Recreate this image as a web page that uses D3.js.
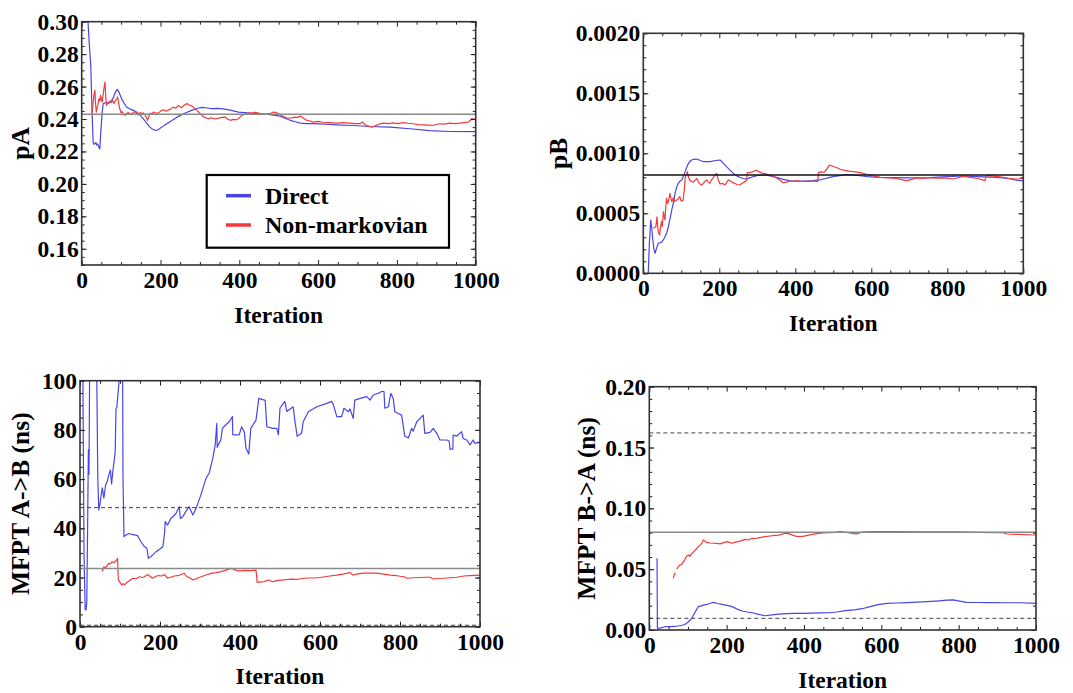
<!DOCTYPE html>
<html>
<head>
<meta charset="utf-8">
<script src="https://cdn.jsdelivr.net/npm/d3@7"></script>
<style>
  body { margin: 0; background: #fff; }
  svg text { font-family: "Liberation Serif", "Times New Roman", serif; font-weight: bold; fill: #000; }
</style>
</head>
<body>
<svg id="chart" width="1073" height="693"></svg>
<script>
// ---- data: [iteration, value] ----
var iterTicks = [0, 200, 400, 600, 800, 1000];
var seriesNames = ["Direct", "Non-markovian"];

var pATicks = [0.16, 0.18, 0.20, 0.22, 0.24, 0.26, 0.28, 0.30];
var pARef = 0.243;
var pADirect = [[12,0.315],[16,0.300],[19,0.287],[23,0.2732],[26,0.2466],[29,0.2257],[31,0.2245],[33,0.2247],[36,0.2255],[38,0.2240],[40,0.2245],[42,0.2237],[44,0.2225],[46,0.2216],[48.5,0.2319],[52,0.2443],[54.6,0.2495],[60,0.2500],[67,0.2502],[72,0.2508],[76,0.2515],[80,0.2530],[84,0.2557],[88,0.2575],[90,0.2583],[94,0.2570],[98,0.2545],[101,0.2526],[107,0.2500],[114,0.2474],[120,0.2465],[130,0.2455],[139,0.2443],[148,0.2425],[156,0.2402],[165,0.2375],[173,0.2350],[180,0.2337],[188,0.2329],[195,0.2335],[203,0.2350],[215,0.2370],[229,0.2391],[241,0.2410],[254,0.2427],[266,0.2440],[279,0.2453],[292,0.2465],[305,0.2472],[318,0.2468],[330,0.2464],[343,0.2466],[356,0.2464],[377,0.2455],[398,0.2443],[420,0.2438],[449,0.2433],[478,0.2427],[503,0.2418],[516,0.2405],[529,0.2392],[542,0.2383],[555,0.2375],[570,0.2372],[588,0.2371],[620,0.2368],[647,0.2364],[689,0.2360],[731,0.2354],[782,0.2350],[833,0.2340],[883,0.2329],[934,0.2323],[1000,0.2322]];
var pANonMarkov = [[26,0.2433],[29,0.2500],[31,0.2546],[33.5,0.2577],[35,0.2500],[37,0.2443],[39,0.2470],[41,0.2484],[44,0.2526],[46,0.2510],[48,0.2546],[50,0.2520],[52,0.2505],[55,0.2560],[57,0.2598],[59,0.2628],[61,0.2540],[63,0.2484],[66,0.2500],[69,0.2495],[72,0.2510],[75,0.2500],[78,0.2515],[82,0.2495],[86,0.2515],[89,0.2525],[91,0.2536],[94,0.2494],[97,0.2460],[100,0.2439],[103,0.2445],[106,0.2432],[110,0.2422],[114,0.2435],[119,0.2439],[124,0.2428],[128,0.2435],[132,0.2440],[136,0.2447],[140,0.2430],[144,0.2425],[148,0.2440],[152,0.2432],[156,0.2438],[161,0.2425],[164,0.2410],[167,0.2392],[171,0.2420],[174,0.2435],[178,0.2430],[182,0.2443],[188,0.2435],[195,0.2438],[201,0.2450],[208,0.2457],[214,0.2448],[220,0.2455],[226,0.2462],[233,0.2474],[239,0.2465],[245,0.2484],[250,0.2475],[254,0.2470],[260,0.2485],[267,0.2495],[273,0.2485],[279,0.2480],[285,0.2470],[292,0.2453],[298,0.2440],[305,0.2422],[312,0.2410],[322,0.2402],[330,0.2408],[338,0.2400],[347,0.2405],[356,0.2410],[364,0.2412],[370,0.2400],[377,0.2392],[385,0.2398],[392,0.2395],[398,0.2402],[406,0.2422],[414,0.2430],[423,0.2439],[430,0.2435],[440,0.2442],[449,0.2436],[458,0.2430],[466,0.2428],[474,0.2432],[480,0.2435],[487,0.2443],[495,0.2438],[503,0.2428],[512,0.2415],[520,0.2408],[530,0.2405],[540,0.2412],[548,0.2410],[555,0.2418],[563,0.2405],[571,0.2392],[580,0.2388],[588,0.2381],[600,0.2385],[613,0.2380],[630,0.2378],[647,0.2375],[665,0.2378],[681,0.2375],[695,0.2372],[706,0.2371],[713,0.2381],[718,0.2368],[723,0.2360],[730,0.2355],[735,0.2350],[745,0.2358],[755,0.2368],[765,0.2375],[778,0.2372],[790,0.2376],[803,0.2372],[816,0.2378],[828,0.2374],[841,0.2371],[854,0.2366],[867,0.2364],[880,0.2362],[892,0.2360],[900,0.2366],[909,0.2371],[920,0.2369],[934,0.2375],[947,0.2372],[960,0.2375],[970,0.2378],[981,0.2381],[987,0.2392],[990,0.2402],[995,0.2400],[1000,0.2398]];

var pBTicks = [0, 0.0005, 0.0010, 0.0015, 0.0020];
var pBRef = 0.00082;
var pBDirect = [[12,0],[13,0],[16,0.00025],[19.5,0.000444],[22,0.00038],[25,0.00028],[28,0.0002],[31,0.000167],[35,0.00021],[39.7,0.00025],[44,0.000255],[48.5,0.00026],[53,0.00028],[57,0.000305],[62,0.00034],[66,0.000388],[70,0.00045],[75,0.000528],[80,0.0006],[83.6,0.000667],[88,0.00072],[92,0.00075],[97,0.00077],[101,0.000778],[106,0.00081],[110,0.000847],[115,0.00089],[119,0.000917],[125,0.00094],[132,0.00095],[140,0.000952],[150,0.00094],[159,0.00093],[168,0.00093],[176,0.00093],[190,0.00094],[202,0.000944],[210,0.00092],[219,0.000889],[228,0.00086],[237,0.000833],[246,0.000812],[254,0.0008],[263,0.00079],[272,0.000786],[280,0.000795],[289,0.000805],[302,0.000815],[315,0.000819],[328,0.000815],[342,0.000805],[355,0.000795],[368,0.000783],[381,0.000775],[394,0.000769],[411,0.000768],[429,0.000769],[446,0.000772],[464,0.000778],[477,0.000788],[490,0.0008],[503,0.000808],[517,0.000814],[530,0.00082],[544,0.000822],[565,0.000815],[590,0.000806],[623,0.0008],[660,0.000797],[700,0.000795],[754,0.000797],[800,0.000805],[842,0.000811],[880,0.000805],[930,0.0008],[960,0.00079],[985,0.000775],[1000,0.00077]];
var pBNonMarkov = [[26,0.000375],[30,0.00038],[33,0.00039],[36,0.00047],[38,0.00038],[40,0.00034],[43,0.00032],[46,0.0004],[48,0.00043],[50,0.00039],[53,0.000513],[55,0.00047],[57,0.000445],[59,0.00055],[61,0.000625],[64,0.00058],[67,0.00061],[70,0.000667],[73,0.00062],[75,0.000597],[79,0.00063],[83,0.0006],[88,0.000611],[92,0.00062],[96,0.000639],[100,0.0006],[105,0.000611],[108,0.0007],[110,0.000792],[113,0.00082],[116,0.000847],[119,0.0008],[122,0.000778],[127,0.000765],[132,0.00076],[136,0.000775],[141,0.00079],[145,0.00076],[150,0.00074],[154,0.000736],[158,0.00075],[163,0.00077],[167,0.000778],[171,0.00076],[175,0.00075],[180,0.00078],[185,0.0008],[189,0.00082],[193,0.000833],[197,0.00078],[202,0.000745],[208,0.00075],[215,0.000736],[220,0.00076],[224,0.000778],[229,0.00077],[233,0.00076],[240,0.00075],[247,0.00074],[254,0.000736],[260,0.00075],[266,0.00076],[272,0.000778],[274,0.000839],[281,0.00084],[289,0.000847],[294,0.000855],[298,0.00086],[305,0.000845],[315,0.000833],[322,0.00083],[330,0.00082],[340,0.00081],[351,0.000794],[358,0.00078],[368,0.000755],[377,0.00076],[385,0.00077],[394,0.000765],[403,0.000772],[411,0.000768],[420,0.000765],[429,0.000768],[440,0.000765],[450,0.00077],[459,0.000764],[461,0.000842],[468,0.000845],[476,0.000842],[483,0.00087],[490,0.000902],[500,0.00089],[510,0.00088],[517,0.000867],[530,0.000858],[544,0.00085],[560,0.000845],[579,0.000833],[600,0.000815],[623,0.0008],[645,0.000795],[667,0.00079],[680,0.00078],[693,0.000772],[705,0.00078],[718,0.000795],[735,0.00079],[754,0.000797],[770,0.000792],[790,0.000795],[805,0.00079],[816,0.000786],[830,0.000798],[842,0.000808],[860,0.0008],[880,0.00079],[899,0.000772],[902,0.000814],[915,0.000812],[930,0.000808],[947,0.0008],[965,0.00079],[982,0.000786],[1000,0.00079]];

var abTicks = [0, 20, 40, 60, 80, 100];
var abRef = 23.7;
var abBounds = [48.4, 0.6];
var abDirect = [[5,160],[10,30],[13,7],[15,6.8],[17,10],[19,40],[21,72],[22.5,62],[25,130],[40,140],[42,100],[44.5,60],[47,47.4],[49,49],[52,52.3],[55.7,56.4],[59.8,52.3],[64,57.6],[68,59],[72,61.7],[76,63.7],[79,58],[82,63],[85,67],[88,71],[90,88.8],[92,89],[94,92.8],[98,100.5],[100,130],[106,130],[107.5,60],[110,36.6],[115,37.3],[123,37.9],[130,37.5],[136,37.3],[144,37],[152,34.6],[161,32.6],[167,32],[171,27.8],[177.5,28.5],[184,29.5],[190,30.5],[199,31.5],[207,32.5],[211,37.3],[213,42.7],[219,41.3],[227,44],[234,45],[240,46],[248,48.8],[251,44],[257,44.7],[265,47],[273,48.8],[282,45.4],[290,48],[302,53.5],[315,60.3],[323,62.4],[332,68.5],[338,73.9],[342,82.7],[343,73],[352,75.9],[356,80.6],[364,82],[373,83.3],[381,85.4],[382,78],[398,78],[404,81.3],[411,79],[415,72.5],[422,70.2],[427,80.6],[440,84],[447,92.8],[457,92.3],[463,92],[467,81.3],[482,80.6],[492,80.6],[496,78],[500,88.9],[512,91.6],[517,87.5],[533,89.4],[537,84],[543,77.4],[554,78.6],[558,83.3],[571,87.4],[592,89.4],[617,90.8],[629,91.6],[633,90.5],[642,85.4],[654,85.4],[660,88.8],[671,87.4],[675,88.5],[683,84.7],[687,92.1],[700,92.8],[717,93.5],[725,92.1],[733,94.2],[746,94.9],[754,95.6],[760,95.6],[762,88.8],[771,89.4],[777,94.9],[783,92.8],[787,87.4],[796,86.7],[804,86],[812,77.4],[821,76.7],[829,80.6],[833,79.5],[842,83.3],[858,86],[862,78.6],[875,79],[883,80.6],[892,78.6],[900,75.9],[917,75.9],[923,75.5],[925,72.2],[932,72.2],[933,77.9],[942,77.5],[954,79.3],[958,76.5],[967,75.9],[975,73.9],[983,75.9],[987,74.5],[996,75],[1000,74.8]];
var abNonMarkov = [[55,22.4],[58,23.5],[60,24.4],[64,23.8],[68,25],[72,25.7],[76,25.5],[80,26.4],[85,26],[90,26.8],[94,27.8],[95,22],[96,19],[100,18],[104,17],[108,17.5],[112,17],[116,17.8],[120,18.3],[126,19],[132,19.7],[140,19.5],[149,20.3],[155,20],[161,20.3],[169,21.2],[175,20.5],[181,19.7],[190,20.5],[196,20.8],[204,20.6],[211,21.2],[215,20.5],[219,19.7],[228,20.2],[236,20.6],[248,20.9],[255,21.3],[261,21.7],[266,20.5],[275,19.8],[283,19],[293,19.7],[303,20.3],[315,21],[328,21.7],[340,22],[353,22.4],[365,23],[378,23.7],[385,23.3],[390,22.9],[400,22.7],[411,22.9],[425,22.8],[440,23],[443,18],[452,18.2],[460,18.3],[472,19],[482,18.3],[495,18.8],[510,19],[525,19.3],[542,19.2],[555,19.6],[570,19.8],[585,19.8],[600,20],[620,20.5],[642,21],[660,21.5],[675,22],[682,21],[695,21.5],[708,21.8],[725,21.8],[742,21.8],[760,21.4],[775,21],[790,20.8],[800,20.5],[810,20.3],[817,19.7],[833,19.9],[850,20],[865,20.1],[875,20.1],[883,19.4],[895,19.6],[908,19.7],[925,19.9],[942,20.1],[960,20.6],[975,20.8],[990,20.9],[1000,21]];

var baTicks = [0, 0.05, 0.10, 0.15, 0.20];
var baRef = 0.0803;
var baBounds = [0.162, 0.0096];
var baDirect = [[20,0.059],[21,0.0015],[23,0.0014],[30,0.0018],[40,0.0027],[55,0.0027],[66,0.0029],[78,0.0035],[88,0.0041],[95,0.0052],[101,0.0068],[110,0.0096],[119,0.015],[127,0.0192],[134,0.0198],[140,0.0205],[153,0.0214],[160,0.0222],[166,0.0227],[177,0.0218],[188,0.021],[201,0.0202],[214,0.0192],[227,0.0172],[240,0.0156],[253,0.0148],[266,0.0142],[283,0.0128],[300,0.0117],[317,0.0124],[335,0.0131],[356,0.0135],[378,0.0137],[400,0.0137],[421,0.0138],[443,0.014],[464,0.0142],[485,0.0148],[507,0.0159],[530,0.0165],[550,0.0175],[571,0.0192],[592,0.0208],[614,0.0219],[640,0.0222],[666,0.0225],[692,0.0229],[718,0.0233],[750,0.024],[770,0.0245],[786,0.0247],[803,0.0237],[820,0.0227],[850,0.0226],[881,0.0225],[924,0.0224],[960,0.0224],[1000,0.0219]];
var baNonMarkov = [[62,0.0425],[65,0.046],[68,0.047],null,[71,0.05],[75,0.052],[79,0.0533],[84,0.054],[88,0.056],[92,0.058],[96,0.0605],[101,0.0617],[105,0.0605],[110,0.063],[114,0.064],[119,0.0658],[123,0.067],[127,0.0685],[132,0.07],[136,0.0713],[140,0.074],[145,0.0728],[150,0.0718],[158,0.0715],[166,0.0713],[175,0.0712],[183,0.0708],[192,0.0718],[201,0.0726],[207,0.072],[214,0.0713],[222,0.0722],[231,0.0726],[238,0.0735],[248,0.0745],[256,0.074],[266,0.0754],[275,0.0752],[285,0.076],[300,0.0767],[318,0.0775],[335,0.078],[352,0.0795],[362,0.079],[369,0.0782],[378,0.0772],[387,0.0767],[400,0.0772],[412,0.078],[425,0.0788],[438,0.0795],[450,0.0798],[464,0.08],[480,0.0802],[493,0.0808],[510,0.0802],[525,0.0795],[536,0.079],[550,0.0805],[575,0.0808],[600,0.0808],[650,0.0808],[700,0.0807],[750,0.0806],[800,0.0806],[850,0.0803],[900,0.0801],[915,0.08],[924,0.0789],[950,0.0786],[980,0.0783],[1000,0.0781]];

// ---- drawing ----
var svg = d3.select("#chart");
var colors = ["#4646e8", "#f23a3a"];
var serif = '"Liberation Serif", "Times New Roman", serif';
var tickFont = 23.5;

var panels = [
  { id: "pA", box: [81.7, 21.7, 475.7, 265], yDomain: [0.15, 0.30], yTicks: pATicks, yMinorStep: 0.005, fmt: ".2f",
    title: "pA", titleX: 28.5, series: [pADirect, pANonMarkov], ref: pARef, refColor: "#8a8a8a", bounds: [], legend: true },
  { id: "pB", box: [643.3, 33.3, 1023.3, 273.3], yDomain: [0, 0.002], yTicks: pBTicks, yMinorStep: 0.0001, fmt: ".4f",
    title: "pB", titleX: 567, series: [pBDirect, pBNonMarkov], ref: pBRef, refColor: "#111", bounds: [] },
  { id: "ab", box: [80, 380.7, 480, 626.7], yDomain: [0, 100], yTicks: abTicks, yMinorStep: 5, fmt: "d",
    title: "MFPT A->B (ns)", titleX: 28.5, series: [abDirect, abNonMarkov], ref: abRef, refColor: "#8a8a8a", bounds: abBounds },
  { id: "ba", box: [649.3, 386.7, 1036, 630], yDomain: [0, 0.2], yTicks: baTicks, yMinorStep: 0.01, fmt: ".2f",
    title: "MFPT B->A (ns)", titleX: 594.5, series: [baDirect, baNonMarkov], ref: baRef, refColor: "#8a8a8a", bounds: baBounds }
];

panels.forEach(function(p) {
  var x0 = p.box[0], y0 = p.box[1], x1 = p.box[2], y1 = p.box[3];
  var w = x1 - x0, h = y1 - y0;

  var x = d3.scaleLinear().domain([0, 1000]).range([x0, x1]);
  var y = d3.scaleLinear().domain(p.yDomain).range([y1, y0]);

  var xMinor = d3.range(0, 1001, 50).filter(function(v) { return iterTicks.indexOf(v) < 0; });
  var yMinor = d3.range(p.yDomain[0], p.yDomain[1] + p.yMinorStep / 2, p.yMinorStep);

  svg.append("clipPath").attr("id", "clip-" + p.id)
    .append("rect").attr("x", x0).attr("y", y0).attr("width", w).attr("height", h);

  var plot = svg.append("g").attr("clip-path", "url(#clip-" + p.id + ")");

  var line = d3.line()
    .defined(function(d) { return d !== null; })
    .x(function(d) { return x(d[0]); })
    .y(function(d) { return y(d[1]); });

  p.series.forEach(function(s, i) {
    plot.append("path")
      .datum(s)
      .attr("fill", "none")
      .attr("stroke", colors[i])
      .attr("stroke-width", 1.2)
      .attr("stroke-linejoin", "round")
      .attr("d", line);
  });

  // reference lines drawn on top, like an epilog
  plot.append("line")
    .attr("x1", x0).attr("x2", x1)
    .attr("y1", y(p.ref)).attr("y2", y(p.ref))
    .attr("stroke", p.refColor).attr("stroke-width", 1.5);

  p.bounds.forEach(function(b) {
    plot.append("line")
      .attr("x1", x0).attr("x2", x1)
      .attr("y1", y(b)).attr("y2", y(b))
      .attr("stroke", "#444").attr("stroke-width", 1)
      .attr("stroke-dasharray", "4,3");
  });

  // axes: inward ticks on all four sides
  function styleAxis(g) {
    g.attr("font-family", null).attr("font-size", null);
    g.select(".domain").remove();
    g.selectAll(".tick line").attr("stroke", "#222").attr("stroke-width", 1);
    g.selectAll(".tick text").style("font-family", serif).style("font-weight", "bold").style("font-size", tickFont + "px");
  }

  svg.append("g").attr("transform", "translate(0," + y1 + ")")
    .call(d3.axisBottom(x).tickValues(iterTicks).tickFormat(d3.format("d")).tickSize(-5).tickPadding(6.5))
    .call(styleAxis);
  svg.append("g").attr("transform", "translate(0," + y1 + ")")
    .call(d3.axisBottom(x).tickValues(xMinor).tickFormat("").tickSize(-3))
    .call(styleAxis);
  svg.append("g").attr("transform", "translate(0," + y0 + ")")
    .call(d3.axisTop(x).tickValues(iterTicks).tickFormat("").tickSize(-5))
    .call(styleAxis);
  svg.append("g").attr("transform", "translate(0," + y0 + ")")
    .call(d3.axisTop(x).tickValues(xMinor).tickFormat("").tickSize(-3))
    .call(styleAxis);

  svg.append("g").attr("transform", "translate(" + x0 + ",0)")
    .call(d3.axisLeft(y).tickValues(p.yTicks).tickFormat(d3.format(p.fmt)).tickSize(-5).tickPadding(3))
    .call(styleAxis);
  svg.append("g").attr("transform", "translate(" + x0 + ",0)")
    .call(d3.axisLeft(y).tickValues(yMinor).tickFormat("").tickSize(-3))
    .call(styleAxis);
  svg.append("g").attr("transform", "translate(" + x1 + ",0)")
    .call(d3.axisRight(y).tickValues(p.yTicks).tickFormat("").tickSize(-5))
    .call(styleAxis);
  svg.append("g").attr("transform", "translate(" + x1 + ",0)")
    .call(d3.axisRight(y).tickValues(yMinor).tickFormat("").tickSize(-3))
    .call(styleAxis);

  // frame
  svg.append("rect")
    .attr("x", x0).attr("y", y0).attr("width", w).attr("height", h)
    .attr("fill", "none").attr("stroke", "#333").attr("stroke-width", 1.6);

  // axis titles
  svg.append("text")
    .attr("x", (x0 + x1) / 2).attr("y", y1 + 57.5)
    .attr("text-anchor", "middle")
    .style("font-family", serif)
    .style("font-size", "23.5px")
    .text("Iteration");

  svg.append("text")
    .attr("transform", "translate(" + p.titleX + "," + ((y0 + y1) / 2) + ") rotate(-90)")
    .attr("text-anchor", "middle")
    .style("font-family", serif)
    .style("font-size", "25.5px")
    .text(p.title);

  if (p.legend) {
    var lg = svg.append("g").attr("transform", "translate(206.7,175)");
    lg.append("rect").attr("width", 242.3).attr("height", 72.7)
      .attr("fill", "#fff").attr("stroke", "#000").attr("stroke-width", 2.2);
    seriesNames.forEach(function(name, i) {
      var yy = 20.7 + i * 29.3;
      lg.append("line").attr("x1", 19.3).attr("x2", 44.3).attr("y1", yy).attr("y2", yy)
        .attr("stroke", colors[i]).attr("stroke-width", 3.5);
      lg.append("text").attr("x", 58.3).attr("y", yy + 8)
        .style("font-family", serif).style("font-size", "24px").text(name);
    });
  }
});
</script>
</body>
</html>
